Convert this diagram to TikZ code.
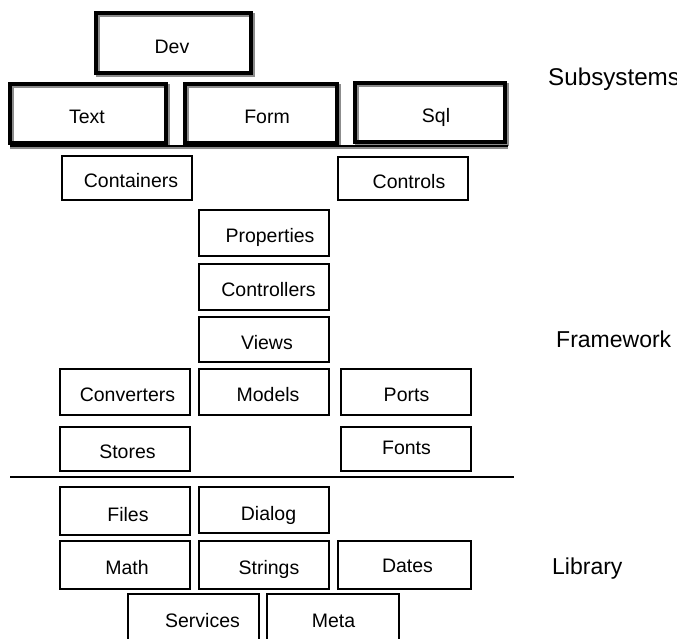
\documentclass[tikz,border=0pt]{standalone}
\usepackage{fontspec}
\setmainfont{Liberation Sans}
\begin{document}
\begin{tikzpicture}[x=1pt,y=-1pt,
  thinbox/.style={draw=black, line width=1.6pt, inner sep=0pt, outer sep=0pt},
  thickbox/.style={draw=black, line width=4pt, inner sep=0pt, outer sep=0pt},
  shadowbox/.style={draw=black!45, line width=4pt, inner sep=0pt, outer sep=0pt},
  boxtext/.style={inner sep=0pt, text height=14pt, text depth=0pt, font=\fontsize{19.5}{20}\selectfont},
  layer/.style={inner sep=0pt, anchor=base west, font=\fontsize{23}{24}\selectfont},
  sep/.style={draw=black, line width=1.5pt},
  sepshadow/.style={draw=black!45, line width=1.2pt}]
\useasboundingbox (0,0) rectangle (677,638);
\newcommand\mybox[9]{%
  \node[#1, minimum width={(#5)-(#3)}, minimum height={(#6)-(#4)}] (#2) at ({((#3)+(#5))/2},{((#4)+(#6))/2}) {};
  \node[boxtext] (#2-t) at (#7,#8) {#9};}
\newcommand\myshadow[5]{%
  \node[shadowbox, minimum width={(#4)-(#2)}, minimum height={(#5)-(#3)}] (#1) at ({((#2)+(#4))/2+1.5},{((#3)+(#5))/2+1.5}) {};}
% thick subsystem boxes with shadow
\myshadow{dev-s}{96}{13}{251}{73}
\myshadow{text-s}{10}{84}{166}{143}
\myshadow{form-s}{185}{84}{337}{143}
\myshadow{sql-s}{355}{83}{505}{142}
\mybox{thickbox}{dev}{96}{13}{251}{73}{172}{46.5}{Dev}
\mybox{thickbox}{text}{10}{84}{166}{143}{87}{116}{Text}
\mybox{thickbox}{form}{185}{84}{337}{143}{267}{116}{Form}
\mybox{thickbox}{sql}{355}{83}{505}{142}{436}{115}{Sql}
% separator under subsystems
\coordinate (s1a) at (10,148);
\coordinate (s1b) at (508,148);
\coordinate (s1c) at (10,146);
\coordinate (s1d) at (508,146);
\draw[sepshadow] (s1a) -- (s1b);
\draw[sep] (s1c) -- (s1d);
% framework
\mybox{thinbox}{containers}{62}{156}{192}{200}{131}{180.5}{Containers}
\mybox{thinbox}{controls}{338}{157}{468}{200}{409}{181}{Controls}
\mybox{thinbox}{properties}{199}{210}{329}{256}{270}{235.5}{Properties}
\mybox{thinbox}{controllers}{199}{264}{329}{310}{268.5}{289.5}{Controllers}
\mybox{thinbox}{views}{199}{317}{329}{362}{267}{342}{Views}
\mybox{thinbox}{converters}{60}{369}{190}{415}{127.5}{394.5}{Converters}
\mybox{thinbox}{models}{199}{369}{329}{415}{268}{394.5}{Models}
\mybox{thinbox}{ports}{341}{369}{471}{415}{406.5}{394.5}{Ports}
\mybox{thinbox}{stores}{60}{427}{190}{471}{127.5}{451.5}{Stores}
\mybox{thinbox}{fonts}{341}{427}{471}{471}{406.5}{447.5}{Fonts}
% separator
\coordinate (s2a) at (10,477);
\coordinate (s2b) at (514,477);
\draw[sep] (s2a) -- (s2b);
% library
\mybox{thinbox}{files}{60}{487}{190}{535}{128}{514}{Files}
\mybox{thinbox}{dialog}{199}{487}{329}{533}{268.5}{513}{Dialog}
\mybox{thinbox}{math}{60}{541}{190}{589}{127}{567}{Math}
\mybox{thinbox}{strings}{199}{541}{329}{589}{269}{567}{Strings}
\mybox{thinbox}{dates}{338}{541}{471}{589}{407.5}{565}{Dates}
\mybox{thinbox}{services}{128}{594}{259}{645}{202.5}{620.5}{Services}
\mybox{thinbox}{meta}{267}{594}{399}{645}{333.5}{620.5}{Meta}
% layer labels
\node[layer, font=\fontsize{24.2}{25}\selectfont] (subsystems) at (548,85) {Subsystems};
\node[layer] (framework) at (556,347) {Framework};
\node[layer] (library) at (552,574) {Library};
\end{tikzpicture}
\end{document}
